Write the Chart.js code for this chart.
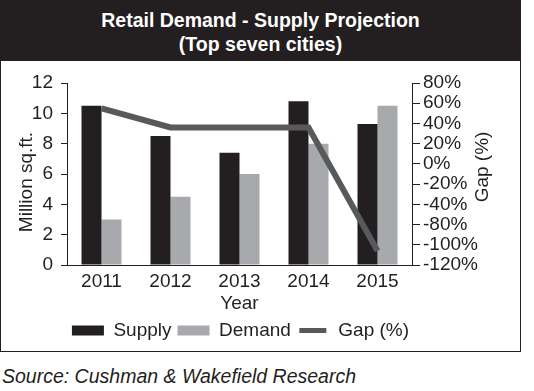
<!DOCTYPE html>
<html>
<head>
<meta charset="utf-8">
<script src="https://cdn.jsdelivr.net/npm/chart.js@4.4.0/dist/chart.umd.min.js"></script>
<style>
  body { margin: 0; background: #fff; font-family: 'Liberation Sans', Arial, sans-serif; color: #231f20; }
  .box { position: absolute; left: 0; top: 0; width: 519px; height: 350px; border: 1px solid #231f20; }
  .head { background: #231f20; color: #fff; font-weight: bold; font-size: 19.5px; line-height: 24px;
          text-align: center; height: 53px; padding-top: 7px; }
  .plot { position: absolute; left: 0; top: 60px; width: 519px; height: 290px; }
  .source { position: absolute; left: 2px; top: 365px; font-style: italic; font-size: 19.5px; }
</style>
</head>
<body>
<div class="box">
  <div class="head">Retail Demand - Supply Projection<br>(Top seven cities)</div>
  <div class="plot"><canvas id="chart"></canvas></div>
</div>
<div class="source">Source: Cushman &amp; Wakefield Research</div>

<script>
const years = ['2011', '2012', '2013', '2014', '2015'];
const supply = [10.5, 8.5, 7.4, 10.8, 9.3];
const demand = [3.0, 4.5, 6.0, 8.0, 10.5];
const gap = [55, 36, 36, 36, -86];

// left axis 0..12 step 2, right axis as printed in the source (note: no -60%)
const sqftRange = { min: 0, max: 12, step: 2 };
const gapRange = { min: -100, max: 80, step: 20 };
const gapTickLabels = ['80%', '60%', '40%', '20%', '0%', '-20%', '-40%', '-80%', '-100%', '-120%'];

const leftTitle = 'Million sq.ft.';
const rightTitle = 'Gap (%)';

const ink = '#231f20';
const font = { family: "'Liberation Sans', Arial, sans-serif", size: 19 };

// axis titles drawn by hand so the right one reads bottom-to-top like the original
const axisTitles = {
  id: 'axisTitles',
  afterDraw(chart) {
    const ctx = chart.ctx;
    ctx.save();
    ctx.fillStyle = ink;
    ctx.font = `${font.size}px ${font.family}`;
    ctx.textAlign = 'center';
    ctx.textBaseline = 'middle';
    ctx.translate(26, 121);
    ctx.rotate(-Math.PI / 2);
    ctx.fillText(leftTitle, 0, 0);
    ctx.restore();

    ctx.save();
    ctx.fillStyle = ink;
    ctx.font = `${font.size}px ${font.family}`;
    ctx.textAlign = 'center';
    ctx.textBaseline = 'middle';
    ctx.translate(482, 106);
    ctx.rotate(-Math.PI / 2);
    ctx.fillText(rightTitle, 0, 0);
    ctx.restore();
  }
};

const ctx = document.getElementById('chart').getContext('2d');

new Chart(ctx, {
  type: 'bar',
  data: {
    labels: years,
    datasets: [
      {
        label: 'Supply',
        data: supply,
        backgroundColor: ink,
        yAxisID: 'y',
        order: 1,
        categoryPercentage: 0.58,
        barPercentage: 1.0
      },
      {
        label: 'Demand',
        data: demand,
        backgroundColor: '#a7a9ac',
        yAxisID: 'y',
        order: 1,
        categoryPercentage: 0.58,
        barPercentage: 1.0
      },
      {
        type: 'line',
        label: 'Gap (%)',
        data: gap,
        borderColor: '#58595b',
        backgroundColor: '#58595b',
        borderWidth: 6,
        pointRadius: 0,
        tension: 0,
        yAxisID: 'y1',
        order: 0
      }
    ]
  },
  options: {
    responsive: true,
    maintainAspectRatio: false,
    animation: false,
    devicePixelRatio: 1,
    layout: {
      padding: { top: 22, right: 40, bottom: 1, left: 0 }
    },
    scales: {
      x: {
        grid: { display: false, drawTicks: false },
        border: { display: true, color: ink, width: 1 },
        ticks: { color: ink, font, padding: 5 },
        title: { display: true, text: 'Year', color: ink, font, padding: { top: 0, bottom: 0 } },
        afterFit: scale => { scale.height = 50; }
      },
      y: {
        position: 'left',
        min: sqftRange.min,
        max: sqftRange.max,
        grid: { drawOnChartArea: false, drawTicks: true, tickLength: 6, color: ink },
        border: { display: true, color: ink, width: 1 },
        ticks: { stepSize: sqftRange.step, color: ink, font, padding: 8 },
        afterFit: scale => { scale.width = 66; }
      },
      y1: {
        position: 'right',
        min: gapRange.min,
        max: gapRange.max,
        grid: { drawOnChartArea: false, drawTicks: true, tickLength: 8, color: ink },
        border: { display: true, color: ink, width: 1 },
        ticks: {
          stepSize: gapRange.step,
          autoSkip: false,
          color: ink,
          font,
          padding: 3,
          callback: (value, index, ticks) => gapTickLabels[ticks.length - 1 - index]
        },
        afterFit: scale => { scale.width = 68; }
      }
    },
    plugins: {
      legend: {
        position: 'bottom',
        labels: {
          color: ink,
          font,
          boxWidth: 32,
          boxHeight: 10,
          padding: 6,
          sort: (a, b) => a.datasetIndex - b.datasetIndex,
          generateLabels: chart => {
            const items = Chart.defaults.plugins.legend.labels.generateLabels(chart);
            items.forEach(item => {
              item.lineWidth = 0;
              if (item.datasetIndex === 2) {
                // thin bar for the line series
                item.lineWidth = 5;
                item.strokeStyle = '#fff';
              }
            });
            return items;
          }
        }
      },
      tooltip: { enabled: false }
    }
  },
  plugins: [axisTitles]
});
</script>
</body>
</html>
